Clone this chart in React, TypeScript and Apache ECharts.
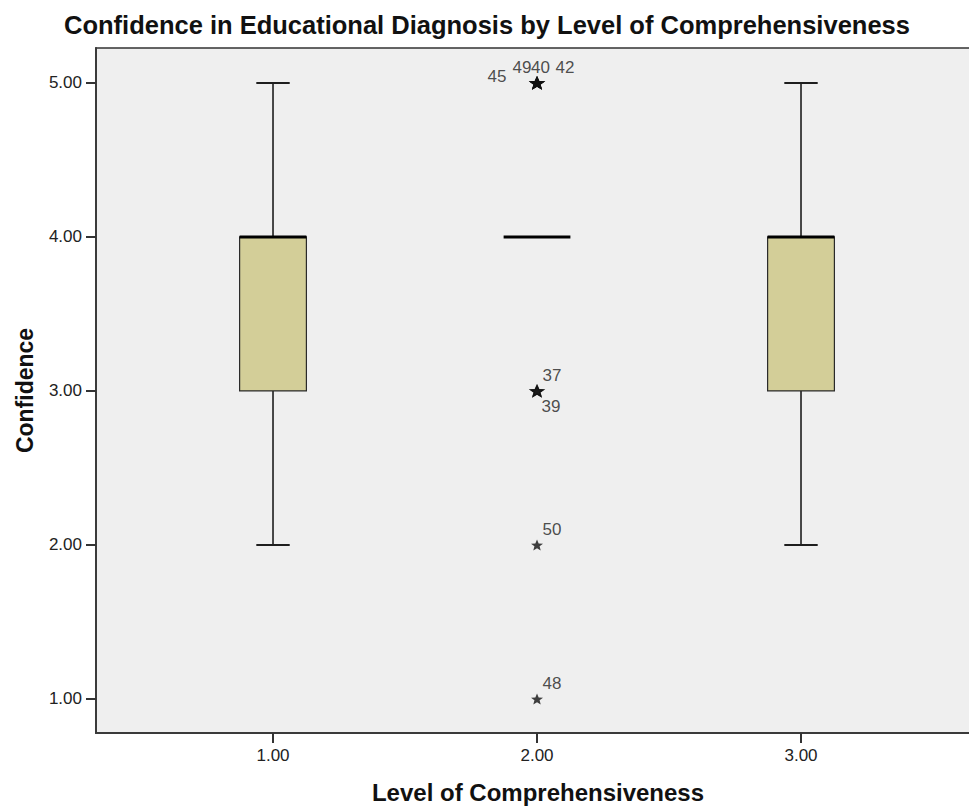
import React, { useEffect, useRef } from "react";
import * as echarts from "echarts";

// ---- data ----
const categories = [1, 2, 3];
const categoryTicks = [1, 2, 3];
const valueTicks = [1, 2, 3, 4, 5];
const whiskerLow = [2, 4, 2];
const quartile1 = [3, 4, 3];
const medians = [4, 4, 4];
const quartile3 = [4, 4, 4];
const whiskerHigh = [5, 4, 5];
const outlierCategory = [2, 2, 2, 2, 2, 2, 2, 2];
const outlierValues = [5, 5, 5, 5, 3, 3, 2, 1];
const outlierCases = ["45", "49", "40", "42", "37", "39", "50", "48"];

const TITLE = "Confidence in Educational Diagnosis by Level of Comprehensiveness";
const X_NAME = "Level of Comprehensiveness";
const Y_NAME = "Confidence";

// ---- styles ----
const FONT = "'Liberation Sans', Arial, sans-serif";
const BOX_FILL = "#D3CE98";
const BG = "#EFEFEF";
const BOX_WIDTH = 0.253; // data units
const caseLabelOffsets: Record<string, [number, number]> = {
  "45": [-40, -6],
  "49": [-15, -15],
  "40": [3.5, -15],
  "42": [28, -15],
  "37": [15, -15],
  "39": [14, 16],
  "50": [15, -15],
  "48": [15, -15],
};
const STAR =
  "path://M0,-10 L2.6,-3.4 L9.51,-3.09 L4.1,1.3 L5.88,8.09 L0,4.3 L-5.88,8.09 L-4.1,1.3 L-9.51,-3.09 L-2.6,-3.4 Z";

export default function App() {
  const ref = useRef<HTMLDivElement>(null);

  useEffect(() => {
    if (!ref.current) return;
    const chart = echarts.init(ref.current, null, { renderer: "svg" });

    const boxData = categories.map((c, i) => [
      c,
      whiskerLow[i],
      quartile1[i],
      medians[i],
      quartile3[i],
      whiskerHigh[i],
    ]);

    const counts: Record<string, number> = {};
    outlierValues.forEach((v, i) => {
      const k = outlierCategory[i] + "_" + v;
      counts[k] = (counts[k] || 0) + 1;
    });

    const outlierData = outlierValues.map((v, i) => {
      const multi = counts[outlierCategory[i] + "_" + v] > 1;
      return {
        value: [outlierCategory[i], v],
        symbolSize: multi ? [13, 11] : [12, 11],
        itemStyle: {
          color: "#111",
          borderColor: "#111",
          borderWidth: multi ? 1.2 : 0,
        },
        label: {
          show: true,
          position: "inside",
          offset: caseLabelOffsets[outlierCases[i]] || [15, -15],
          formatter: outlierCases[i],
          fontSize: 17,
          fontFamily: FONT,
          color: "#222",
        },
      };
    });

    const option: any = {
      animation: false,
      backgroundColor: "#ffffff",
      title: {
        text: TITLE,
        left: 59,
        top: 7,
        textStyle: {
          fontSize: 25.5,
          fontWeight: "bold",
          fontFamily: FONT,
          color: "#111",
        },
      },
      grid: {
        left: 96,
        top: 48,
        right: 0,
        bottom: 77,
        show: true,
        backgroundColor: BG,
        borderColor: "#333",
        borderWidth: 1.5,
      },
      xAxis: {
        type: "value",
        min: 0.3295,
        max: 3.678,
        name: X_NAME,
        nameLocation: "middle",
        nameGap: 47,
        nameTextStyle: {
          fontSize: 24,
          fontWeight: "bold",
          fontFamily: FONT,
          color: "#111",
        },
        splitLine: { show: false },
        axisLine: { show: true, onZero: false, lineStyle: { color: "#3a3a3a", width: 2 } },
        axisTick: {
          show: true,
          length: 10,
          customValues: categoryTicks,
          lineStyle: { color: "#333", width: 2 },
        },
        axisLabel: {
          customValues: categoryTicks,
          margin: 14,
          fontSize: 17,
          fontFamily: FONT,
          color: "#222",
          formatter: (v: number) => v.toFixed(2),
        },
      },
      yAxis: {
        type: "value",
        min: 0.779,
        max: 5.227,
        name: Y_NAME,
        nameLocation: "middle",
        nameGap: 60,
        nameTextStyle: {
          fontSize: 23,
          fontWeight: "bold",
          fontFamily: FONT,
          color: "#111",
        },
        splitLine: { show: false },
        axisLine: { show: true, onZero: false, lineStyle: { color: "#3a3a3a", width: 2 } },
        axisTick: {
          show: true,
          length: 10,
          customValues: valueTicks,
          lineStyle: { color: "#333", width: 2 },
        },
        axisLabel: {
          customValues: valueTicks,
          margin: 14,
          fontSize: 17,
          fontFamily: FONT,
          color: "#222",
          formatter: (v: number) => v.toFixed(2),
        },
      },
      series: [
        {
          type: "custom",
          data: boxData,
          encode: { x: 0, y: [1, 2, 3, 4, 5] },
          renderItem: (params: any, api: any) => {
            const x = api.value(0);
            const lo = api.value(1);
            const q1 = api.value(2);
            const med = api.value(3);
            const q3 = api.value(4);
            const hi = api.value(5);
            const half = api.size([BOX_WIDTH, 0])[0] / 2;
            const capHalf = half / 2;
            const pLo = api.coord([x, lo]);
            const pQ1 = api.coord([x, q1]);
            const pMed = api.coord([x, med]);
            const pQ3 = api.coord([x, q3]);
            const pHi = api.coord([x, hi]);
            const cx = pMed[0];
            const children: any[] = [];
            const wStyle = { stroke: "#1e1e1e", lineWidth: 1.6 };
            if (lo < q1) {
              children.push({
                type: "line",
                shape: { x1: cx, y1: pLo[1], x2: cx, y2: pQ1[1] },
                style: wStyle,
              });
              children.push({
                type: "line",
                shape: { x1: cx - capHalf, y1: pLo[1], x2: cx + capHalf, y2: pLo[1] },
                style: { stroke: "#1e1e1e", lineWidth: 2 },
              });
            }
            if (hi > q3) {
              children.push({
                type: "line",
                shape: { x1: cx, y1: pHi[1], x2: cx, y2: pQ3[1] },
                style: wStyle,
              });
              children.push({
                type: "line",
                shape: { x1: cx - capHalf, y1: pHi[1], x2: cx + capHalf, y2: pHi[1] },
                style: { stroke: "#1e1e1e", lineWidth: 2 },
              });
            }
            if (q3 > q1) {
              children.push({
                type: "rect",
                shape: { x: cx - half, y: pQ3[1], width: half * 2, height: pQ1[1] - pQ3[1] },
                style: { fill: BOX_FILL, stroke: "#2a2a2a", lineWidth: 1.2 },
              });
            }
            children.push({
              type: "line",
              shape: { x1: cx - half, y1: pMed[1], x2: cx + half, y2: pMed[1] },
              style: { stroke: "#000", lineWidth: 3 },
            });
            return { type: "group", children };
          },
          z: 2,
        },
        {
          type: "scatter",
          symbol: STAR,
          data: outlierData,
          z: 3,
        },
      ],
    };

    chart.setOption(option);
    return () => chart.dispose();
  }, []);

  return (
    <div
      style={{
        position: "fixed",
        left: 0,
        top: 0,
        width: 969,
        height: 810,
        overflow: "hidden",
        background: "#fff",
      }}
    >
      <div ref={ref} style={{ width: 980, height: 810 }} />
    </div>
  );
}
